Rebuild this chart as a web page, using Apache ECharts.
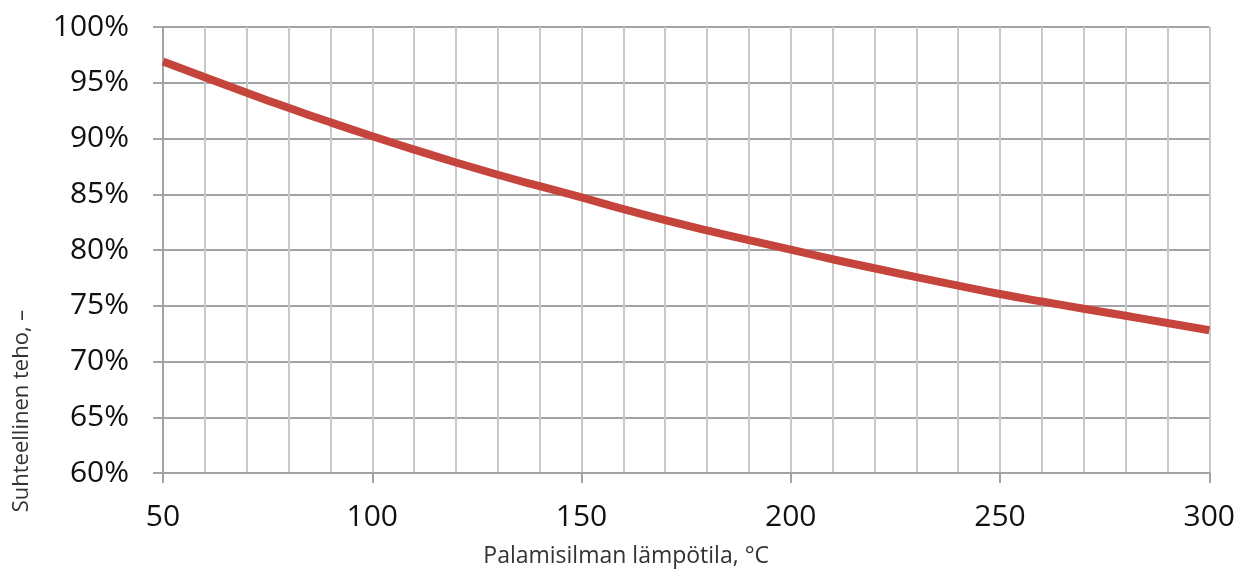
<!DOCTYPE html>
<html>
<head>
<meta charset="utf-8">
<script src="https://cdn.jsdelivr.net/npm/echarts@6/dist/echarts.min.js"></script>
<style>
  html, body { margin: 0; padding: 0; background: #ffffff; }
  #chart { width: 1238px; height: 573px; }
</style>
</head>
<body>
<div id="chart"></div>
<script>
// Combustion air temperature, °C
const temperatures = [50, 60, 70, 80, 90, 100, 110, 120, 130, 140, 150, 160, 170,
  180, 190, 200, 210, 220, 230, 240, 250, 260, 270, 280, 290, 300];
// Relative output, %
const relativeOutput = [96.9, 95.5, 94.1, 92.75, 91.45, 90.2, 89.0, 87.85, 86.75, 85.72,
  84.72, 83.66, 82.68, 81.76, 80.88, 80.03, 79.17, 78.36, 77.57, 76.81,
  76.05, 75.38, 74.73, 74.1, 73.45, 72.8];

const xAxisTitle = 'Palamisilman lämpötila, °C';
const yAxisTitle = 'Suhteellinen teho, –';

const fontFamily = '"Open Sans", "Noto Sans", sans-serif';
const majorGrid = '#a3a3a6';
const minorGrid = '#c9c9cb';

const chart = echarts.init(document.getElementById('chart'), null, { renderer: 'canvas' });

chart.setOption({
  animation: false,
  backgroundColor: '#ffffff',
  grid: { left: 163, right: 28, top: 27, bottom: 97, containLabel: false },
  xAxis: {
    type: 'value',
    min: 50,
    max: 300,
    interval: 50,
    name: xAxisTitle,
    nameLocation: 'middle',
    nameGap: 72,
    nameTextStyle: { fontFamily, fontSize: 23, color: '#333333', padding: [0, 120, 0, 0] },
    axisLine: { show: true, lineStyle: { color: majorGrid, width: 2 } },
    axisTick: { show: true, length: 10, lineStyle: { color: majorGrid, width: 2 } },
    axisLabel: { fontFamily, fontSize: 30, color: '#111111', margin: 29 },
    splitLine: { show: true, lineStyle: { color: minorGrid, width: 2 } },
    minorTick: { show: false, splitNumber: 5 },
    minorSplitLine: { show: true, lineStyle: { color: minorGrid, width: 2 } }
  },
  yAxis: {
    type: 'value',
    min: 60,
    max: 100,
    interval: 5,
    name: yAxisTitle,
    nameLocation: 'middle',
    nameGap: 130,
    nameRotate: 90,
    nameTextStyle: { fontFamily, fontSize: 22, color: '#333333', padding: [0, 322, 0, 0] },
    axisLine: { show: true, lineStyle: { color: majorGrid, width: 2 } },
    axisTick: { show: true, length: 10, lineStyle: { color: majorGrid, width: 2 } },
    axisLabel: { fontFamily, fontSize: 30, color: '#111111', margin: 34, formatter: '{value}%' },
    splitLine: { show: true, lineStyle: { color: majorGrid, width: 2 } }
  },
  series: [{
    type: 'line',
    data: temperatures.map((t, i) => [t, relativeOutput[i]]),
    smooth: true,
    showSymbol: false,
    lineStyle: { color: '#c5443c', width: 8, cap: 'butt' },
    clip: false
  }]
});
</script>
</body>
</html>
